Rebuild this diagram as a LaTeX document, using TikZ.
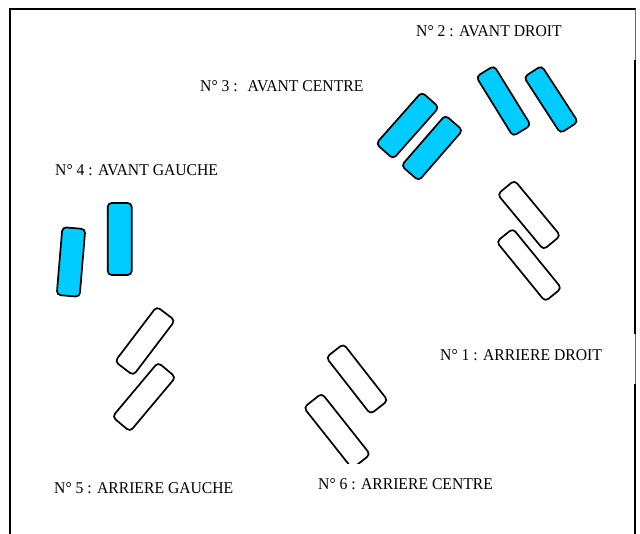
\documentclass[tikz,border=0pt]{standalone}
\usepackage{fontspec}
\setmainfont[FakeStretch=0.95]{Liberation Serif}
\definecolor{seatblue}{RGB}{0,204,255}
\begin{document}
\begin{tikzpicture}[x=1pt,y=1pt,
  seat/.style={draw=black, line width=1.7pt, rounded corners=4pt, minimum height=22pt, inner sep=0pt, outer sep=0pt},
  blueseat/.style={seat, fill=seatblue},
  lbl/.style={anchor=base west, inner sep=0pt, font=\fontsize{16.5}{19}\selectfont},
  frameline/.style={line width=1.6pt, line cap=butt},
  thinline/.style={line width=0.8pt, draw=black!60}]
\useasboundingbox (0,0) rectangle (640,534);
% frame
\draw[frameline] (10,0) -- (10,525) -- (636,525);
\draw[thinline] (635,525) -- (635,0);
\draw[frameline] (635,474) -- (635,200);
\draw[frameline] (635,150) -- (635,0);
% avant centre
\node[blueseat, minimum width=69pt, minimum height=23pt, rotate=48.5] (a1) at (407.5,408.5) {};
\node[blueseat, minimum width=67pt, minimum height=23pt, rotate=49] (a2) at (432,386) {};
% avant droit
\node[blueseat, minimum width=70pt, minimum height=21pt, rotate=-58.3] (b1) at (503.5,433) {};
\node[blueseat, minimum width=67pt, minimum height=21pt, rotate=-57] (b2) at (551,434.5) {};
% avant gauche
\node[blueseat, minimum width=68pt, minimum height=23pt, rotate=85.2] (c1) at (71,272) {};
\node[blueseat, minimum width=72pt, minimum height=24pt, rotate=90] (c2) at (119.7,295) {};
% arriere gauche
\node[seat, minimum width=69pt, minimum height=23pt, rotate=52.8] (d1) at (145,193) {};
\node[seat, minimum width=71pt, minimum height=23pt, rotate=50] (d2) at (144,137) {};
% arriere centre
\node[seat, minimum width=72pt, minimum height=22pt, rotate=-52] (e1) at (357,155) {};
\begin{scope}
\clip (0,70) rectangle (640,534);
\node[seat, minimum width=78pt, minimum height=23pt, rotate=-51.6] (e2) at (337,103) {};
\end{scope}
% arriere droit
\node[seat, minimum width=72pt, minimum height=22pt, rotate=-50.3] (f1) at (529,319) {};
\node[seat, minimum width=77pt, minimum height=21pt, rotate=-50.8] (f2) at (529,269) {};
% labels
\node[lbl] (l2) at (416,497) {N° 2 : AVANT DROIT};
\node[lbl] (l3) at (200,442) {N° 3 :\hspace{0.6em}AVANT CENTRE};
\node[lbl] (l4) at (55,358) {N° 4 : AVANT GAUCHE};
\node[lbl] (l1) at (440,173) {N° 1 : ARRIERE DROIT};
\node[lbl] (l5) at (54,40) {N° 5 : ARRIERE GAUCHE};
\node[lbl] (l6) at (318,44) {N° 6 : ARRIERE CENTRE};
\end{tikzpicture}
\end{document}
